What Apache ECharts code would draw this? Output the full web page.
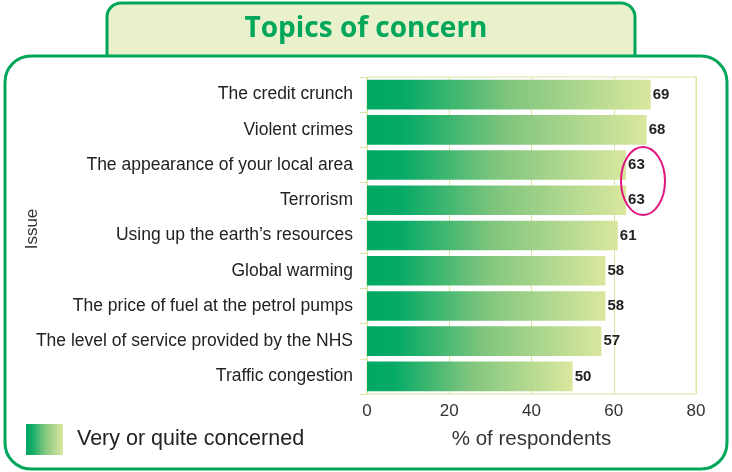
<html>
<head>
<meta charset="utf-8">
<script type="text/javascript" src="https://cdn.jsdelivr.net/npm/echarts@6/dist/echarts.min.js"></script>
</head>
<body style="margin: 0; padding: 0; background: #fff;">
<div id="myChart" style="width: 732px; height: 472px;"></div>
<script type="text/javascript">
var issues = ['The credit crunch', 'Violent crimes', 'The appearance of your local area', 'Terrorism',
	'Using up the earth\u2019s resources', 'Global warming', 'The price of fuel at the petrol pumps',
	'The level of service provided by the NHS', 'Traffic congestion'];
var concerned = [69, 68, 63, 63, 61, 58, 58, 57, 50];
var xTicks = [0, 20, 40, 60, 80];

var green = '#00a65a';
var gridColor = '#d9e5a3';
var fnt = '"Liberation Sans", Arial, sans-serif';

var barFill = new echarts.graphic.LinearGradient(0, 0, 1, 0, [
	{offset: 0, color: '#00a862'},
	{offset: 0.13, color: '#05aa66'},
	{offset: 0.5, color: '#80c57d'},
	{offset: 1, color: '#dae79e'}
]);

var option = {
	animation: false,
	textStyle: {fontFamily: fnt},
	graphic: [
		{type: 'rect', shape: {x: 107, y: 3, width: 528, height: 70, r: 14},
			style: {fill: '#e9f1cc', stroke: green, lineWidth: 3}, z: 0},
		{type: 'rect', shape: {x: 5, y: 56, width: 722, height: 413, r: 26},
			style: {fill: '#fff', stroke: green, lineWidth: 3}, z: 1},
		{type: 'text', left: 'center', top: 15, z: 2,
			style: {text: 'Topics of concern', fill: '#00a65a', font: 'bold 28px "Open Sans", Lato, sans-serif'}},
		// y axis name
		{type: 'text', x: 32, y: 229, rotation: Math.PI / 2, z: 5,
			style: {text: 'Issue', fill: '#333', font: '17px ' + fnt, align: 'center', verticalAlign: 'middle'}},
		{type: 'ellipse', z: 10,
			shape: {cx: 643, cy: 181, rx: 22, ry: 34},
			style: {fill: 'none', stroke: '#e0157f', lineWidth: 2}}
	],
	legend: {
		left: 21, top: 419, z: 5,
		itemWidth: 37, itemHeight: 31,
		icon: 'rect',
		textStyle: {fontSize: 21.5, color: '#222', padding: [0, 0, 0, 9]},
		data: ['Very or quite concerned']
	},
	grid: {left: 367, right: 36, top: 77, bottom: 78, show: true, borderColor: gridColor, borderWidth: 1, z: 3},
	xAxis: {
		type: 'value', min: 0, max: 80, interval: 20, z: 5,
		axisLine: {show: false}, axisTick: {show: false},
		splitLine: {lineStyle: {color: gridColor, width: 1}},
		axisLabel: {fontSize: 17, color: '#333', margin: 9, formatter: function (v) { return xTicks.indexOf(v) >= 0 ? v : ''; }},
		name: '% of respondents', nameLocation: 'middle', nameGap: 35,
		nameTextStyle: {fontSize: 20.5, color: '#333'}
	},
	yAxis: {
		type: 'category', inverse: true, data: issues, z: 5,
		axisLine: {lineStyle: {color: gridColor}},
		axisTick: {show: true, length: 7, lineStyle: {color: gridColor}},
		axisLabel: {fontSize: 17.5, color: '#222', margin: 14}
	},
	series: [{
		name: 'Very or quite concerned', type: 'bar', data: concerned,
		barCategoryGap: '16%', z: 6,
		itemStyle: {color: barFill},
		label: {show: true, position: 'right', distance: 2, fontSize: 15, fontWeight: 'bold', color: '#222'}
	}]
};
var chart = echarts.init(document.getElementById('myChart'));
chart.setOption(option);
</script>
</body>
</html>
